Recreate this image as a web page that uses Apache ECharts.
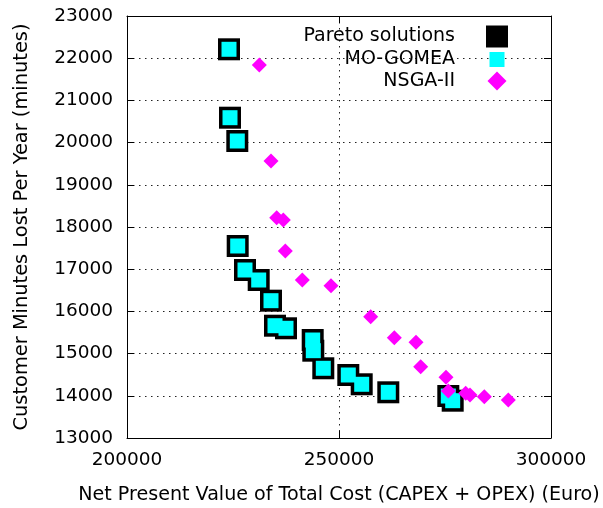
<!DOCTYPE html>
<html>
<head>
<meta charset="utf-8">
<script src="https://cdn.jsdelivr.net/npm/echarts@6/dist/echarts.min.js"></script>
<style>
html,body{margin:0;padding:0;background:#fff;}
#chart{width:603px;height:508px;}
</style>
</head>
<body>
<div id="chart"></div>
<script>
// Data
const paretoX = [224057, 224293, 226014, 226108, 227830, 231061, 233962, 234906, 237500, 243797, 243939, 246297, 252193, 255354, 261627, 275778, 276816];
const paretoY = [22211, 20590, 20038, 17550, 16981, 16744, 16254, 15661, 15600, 15322, 15069, 14652, 14493, 14273, 14083, 13995, 13884];
const gomeaX = [224057, 224293, 226014, 226108, 227830, 231061, 233962, 234906, 237500, 243797, 243939, 246297, 252193, 255354, 261627, 275778, 276816];
const gomeaY = [22211, 20590, 20038, 17550, 16981, 16744, 16254, 15661, 15600, 15322, 15069, 14652, 14493, 14273, 14083, 13995, 13884];
const nsgaX = [231203, 233962, 235306, 236863, 237335, 241344, 248113, 257476, 263042, 268160, 269269, 275236, 275778, 279882, 280896, 284269, 289929];
const nsgaY = [21839, 19564, 18220, 18166, 17431, 16744, 16609, 15874, 15377, 15268, 14689, 14439, 14114, 14059, 14019, 13979, 13900];
const seriesNames = ['Pareto solutions', 'MO-GOMEA', 'NSGA-II'];
const xTitle = 'Net Present Value of Total Cost (CAPEX + OPEX) (Euro)';
const yTitle = 'Customer Minutes Lost Per Year (minutes)';

const zip = (xs, ys) => xs.map((x, i) => [x, ys[i]]);
const FONT = 'DejaVu Sans';
const chart = echarts.init(document.getElementById('chart'), null, {renderer: 'canvas'});

const gridLine = {show: true, lineStyle: {color: '#222', width: 1, type: [1.5, 4.5]}};
const axisLine = {show: true, onZero: false, lineStyle: {color: '#000', width: 1}};
const axisTick = {show: true, inside: true, length: 7, lineStyle: {color: '#000', width: 1}};
const plain = v => String(v);

function legendFor(name, w, h, right, top, padRight) {
  return {
    data: [name], orient: 'vertical', align: 'right', right: right, top: top,
    padding: 0, itemWidth: w, itemHeight: h, selectedMode: false,
    textStyle: {fontFamily: FONT, fontSize: 19, color: '#000', lineHeight: 20, padding: [0, padRight, 0, 0]}
  };
}

chart.setOption({
  animation: false,
  backgroundColor: '#fff',
  grid: {left: 127, right: 52, top: 16, bottom: 70, containLabel: false, outerBoundsMode: 'none'},
  legend: [
    legendFor(seriesNames[0], 22, 22, 95, 25.5, 26),
    legendFor(seriesNames[1], 15, 15, 98.5, 49.5, 29.5),
    legendFor(seriesNames[2], 19, 19, 96.5, 71, 27.5)
  ],
  xAxis: [{
    type: 'value', position: 'bottom', min: 200000, max: 300000, interval: 50000,
    axisLine: axisLine, axisTick: axisTick, splitLine: gridLine,
    axisLabel: {fontFamily: FONT, fontSize: 18.5, color: '#000', margin: 13, formatter: plain},
    name: xTitle, nameLocation: 'middle', nameGap: 48,
    nameTextStyle: {fontFamily: FONT, fontSize: 19.1, color: '#000'}
  }, {
    type: 'value', position: 'top', min: 200000, max: 300000, interval: 50000,
    axisLine: axisLine, axisTick: axisTick, splitLine: {show: false}, axisLabel: {show: false}
  }],
  yAxis: [{
    type: 'value', position: 'left', min: 13000, max: 23000, interval: 1000,
    axisLine: axisLine, axisTick: axisTick, splitLine: gridLine,
    axisLabel: {fontFamily: FONT, fontSize: 18.5, color: '#000', margin: 14, formatter: plain},
    name: yTitle, nameLocation: 'middle', nameGap: 96,
    nameTextStyle: {fontFamily: FONT, fontSize: 19.4, color: '#000'}
  }, {
    type: 'value', position: 'right', min: 13000, max: 23000, interval: 1000,
    axisLine: axisLine, axisTick: axisTick, splitLine: {show: false}, axisLabel: {show: false}
  }],
  series: [{
    name: seriesNames[0], type: 'scatter', symbol: 'rect', symbolSize: 22,
    itemStyle: {color: '#000', opacity: 1}, data: zip(paretoX, paretoY), z: 2
  }, {
    name: seriesNames[1], type: 'scatter', symbol: 'rect', symbolSize: 15,
    itemStyle: {color: '#00ffff', opacity: 1}, data: zip(gomeaX, gomeaY), z: 3
  }, {
    name: seriesNames[2], type: 'scatter', symbol: 'diamond', symbolSize: 15,
    itemStyle: {color: '#ff00ff', opacity: 1}, data: zip(nsgaX, nsgaY), z: 4
  }]
});
</script>
</body>
</html>
